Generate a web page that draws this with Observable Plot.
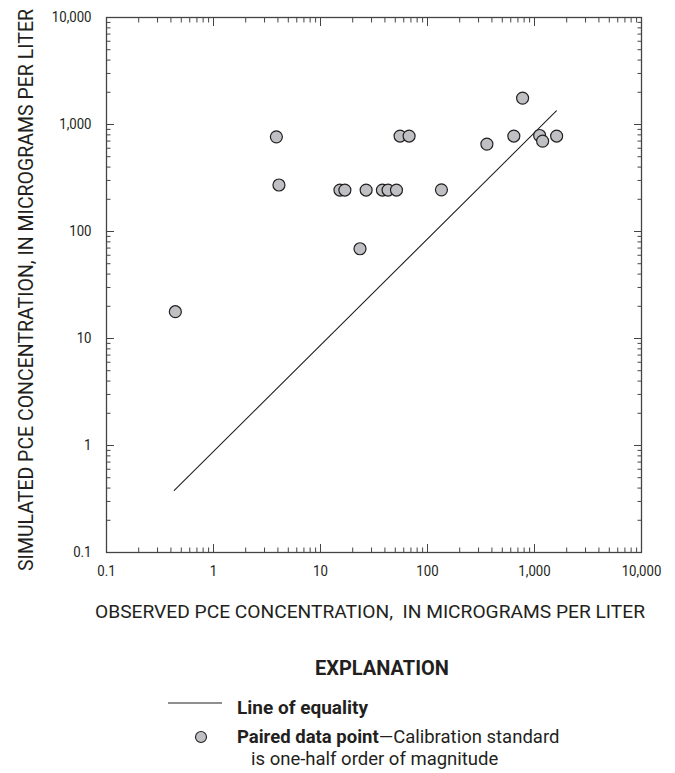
<!DOCTYPE html>
<html><head><meta charset="utf-8">
<script src="https://cdn.jsdelivr.net/npm/d3@7"></script>
<script src="https://cdn.jsdelivr.net/npm/@observablehq/plot@0.6"></script>
<style>
body{margin:0;background:#fff;}
#wrap{width:675px;height:773px;}
</style></head><body><div id="wrap"></div>
<script>
// Data
const observed  = [0.44, 3.87, 4.09, 15.2, 16.9, 23.4, 26.7, 37.9, 42.8, 51.3, 55.4, 67.3, 135, 359, 641, 774, 1117, 1191, 1610];
const simulated = [17.8, 767, 272, 244, 244, 69, 244, 244, 244, 244, 780, 780, 245, 656, 780, 1765, 789, 700, 780];
const equalityX = [0.43, 1600];
const equalityY = [0.38, 1340];
const majorTicks  = [0.1, 1, 10, 100, 1000, 10000];
const majorLabels = ["0.1", "1", "10", "100", "1,000", "10,000"];
const minorMultipliers = [2, 3, 4, 5, 6, 7, 8, 9];
const xTitle = "OBSERVED PCE CONCENTRATION,  IN MICROGRAMS PER LITER";
const yTitle = "SIMULATED PCE CONCENTRATION, IN MICROGRAMS PER LITER";
const legendTitle = "EXPLANATION";
const legendLine = "Line of equality";
const legendPointBold = "Paired data point";
const legendPointText = "\u2014Calibration standard";
const legendPointText2 = "is one-half order of magnitude";

const FONT = 'Roboto,"Liberation Sans",sans-serif';
const INK = "#231f20";

const minorTicks = majorTicks.slice(0, -1).flatMap(d => minorMultipliers.map(m => d * m));
const fmt = d => majorLabels[majorTicks.indexOf(d)] ?? "";
const points = observed.map((x, i) => ({x, y: simulated[i]}));
const eq = equalityX.map((x, i) => ({x, y: equalityY[i]}));
const blank = () => "";

const tickMarks = [
  ...["bottom", "top"].flatMap(a => [
    Plot.axisX({anchor: a, ticks: majorTicks, tickSize: -8, tickFormat: blank, label: null, stroke: "#444"}),
    Plot.axisX({anchor: a, ticks: minorTicks, tickSize: -4.5, tickFormat: blank, label: null, stroke: "#444"})
  ]),
  ...["left", "right"].flatMap(a => [
    Plot.axisY({anchor: a, ticks: majorTicks, tickSize: -8, tickFormat: blank, label: null, stroke: "#444"}),
    Plot.axisY({anchor: a, ticks: minorTicks, tickSize: -4.5, tickFormat: blank, label: null, stroke: "#444"})
  ])
];

const chart = Plot.plot({
  width: 675, height: 773,
  marginLeft: 106, marginRight: 34, marginTop: 17, marginBottom: 221,
  style: {fontFamily: FONT, fontSize: "15px", color: INK, background: "white"},
  x: {type: "log", domain: [0.1, 10000]},
  y: {type: "log", domain: [0.1, 10000]},
  marks: [
    ...tickMarks,
    Plot.frame({stroke: "#444", strokeWidth: 1.3}),
    Plot.axisX({anchor: "bottom", ticks: majorTicks, tickSize: 0, tickPadding: 13, tickFormat: fmt, label: null, fill: INK}),
    Plot.axisY({anchor: "left", ticks: majorTicks, tickSize: 0, tickPadding: 15, tickFormat: fmt, label: null, fill: INK}),
    Plot.line(eq, {x: "x", y: "y", stroke: INK, strokeWidth: 1.1}),
    Plot.dot(points, {x: "x", y: "y", r: 6, fill: "#bfc0c3", stroke: INK, strokeWidth: 1.2})
  ]
});
document.getElementById("wrap").appendChild(chart);

const svg = d3.select(chart);
// Slightly condense the tick labels to mimic the narrow typeface of the original
svg.selectAll('g[aria-label$="tick label"] text').each(function () {
  const w = this.getComputedTextLength();
  if (w > 0) d3.select(this).attr("textLength", w * 0.88).attr("lengthAdjust", "spacingAndGlyphs");
});

// Axis titles
svg.append("text").attr("x", 370).attr("y", 618).attr("text-anchor", "middle")
  .attr("font-family", FONT).attr("font-size", 19.2).attr("fill", INK)
  .style("white-space", "pre").text(xTitle);
svg.append("text").attr("transform", "translate(33,290) rotate(-90)").attr("text-anchor", "middle")
  .attr("font-family", FONT).attr("font-size", 19.5).attr("fill", INK).text(yTitle);

// Explanation (legend)
const lg = svg.append("g").attr("font-family", FONT).attr("fill", INK).attr("text-anchor", "start");
lg.append("text").attr("x", 382).attr("y", 675).attr("text-anchor", "middle")
  .attr("font-size", 20).attr("font-weight", "bold").text(legendTitle);
lg.append("line").attr("x1", 168).attr("x2", 222).attr("y1", 703).attr("y2", 703)
  .attr("stroke", INK).attr("stroke-width", 1.1);
lg.append("text").attr("x", 237).attr("y", 714).attr("font-size", 19).attr("font-weight", "bold")
  .text(legendLine);
lg.append("circle").attr("cx", 201).attr("cy", 737).attr("r", 5.5)
  .attr("fill", "#bfc0c3").attr("stroke", INK).attr("stroke-width", 1.1);
const t2 = lg.append("text").attr("x", 237).attr("y", 743).attr("font-size", 18.5);
t2.append("tspan").attr("font-weight", "bold").text(legendPointBold);
t2.append("tspan").text(legendPointText);
lg.append("text").attr("x", 251).attr("y", 765).attr("font-size", 18.5).text(legendPointText2);
</script>
</body></html>
